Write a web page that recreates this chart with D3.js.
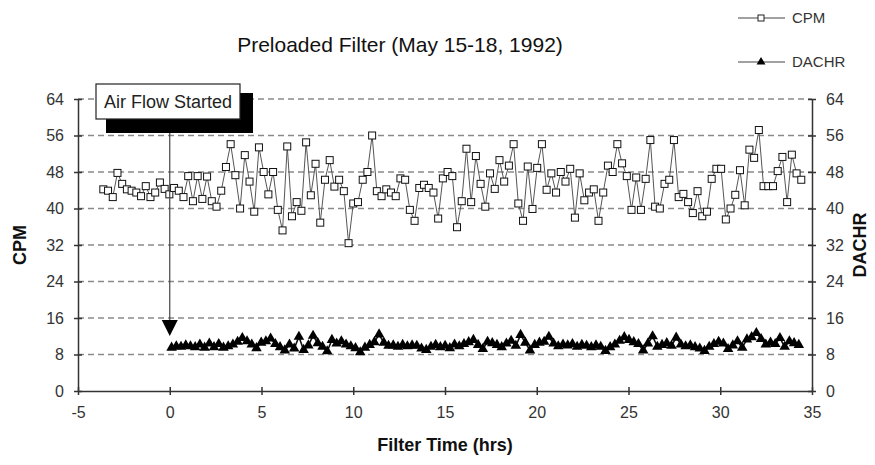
<!DOCTYPE html>
<html>
<head>
<meta charset="utf-8">
<script src="https://cdn.jsdelivr.net/npm/d3@7"></script>
<style>
  body { margin: 0; background: #fff; }
  text { font-family: "Liberation Sans", Arial, sans-serif; }
</style>
</head>
<body>
<div id="chart"></div>
<script>
// readings were logged at a fixed interval, so x comes from the sample index
const cpmStart = -3.62;
const dachrStart = 0.1;
const sampleInterval = 0.257; // hrs between readings

const cpmValues = [
  44.2, 43.9, 42.5, 47.8, 45.4, 44.2, 43.9, 43.5, 42.7, 44.9, 42.5, 43.5, 45.7, 44.3, 43.1, 44.5, 43.9, 42.5,
  47.1, 41.6, 47.1, 42.1, 47.0, 41.6, 40.4, 43.9, 49.1, 54.1, 47.3, 40.0, 51.7, 45.9, 39.3, 53.4, 48.0, 43.1,
  48.0, 39.7, 35.2, 53.6, 38.3, 41.4, 39.5, 54.5, 42.9, 49.8, 36.9, 46.3, 50.6, 44.8, 46.3, 43.8, 32.4, 41.1,
  41.4, 46.3, 48.0, 56.0, 43.8, 42.7, 44.2, 43.5, 42.7, 46.6, 46.3, 39.7, 37.3, 44.5, 45.2, 44.5, 43.5, 37.8,
  46.6, 48.0,
  47.1, 35.9, 41.6, 53.1, 41.4, 51.5, 45.4, 40.4, 47.7, 44.3, 50.6, 45.9, 49.4, 54.1, 41.1, 37.3, 49.2, 39.9,
  48.9, 54.1, 44.1, 47.7, 43.5, 48.0, 45.9, 48.7, 38.0, 47.7, 41.8, 43.5, 44.2, 37.3, 43.5, 49.4, 48.0, 54.1,
  49.9, 47.1, 39.7,
  46.8, 39.7, 46.5, 55.0, 40.4, 40.0, 45.4, 46.3, 55.0, 42.5, 43.2, 41.4, 39.0, 43.8, 38.3, 39.3, 46.5, 48.7,
  48.7, 37.6, 40.0, 43.0, 48.4, 40.7, 52.9, 51.1, 57.2, 44.9, 44.9, 44.9, 48.2, 51.3, 41.4, 51.8, 47.7, 46.3
];

const dachrValues = [
  9.5, 9.8, 9.7, 10.0, 9.8, 9.6, 10.2, 9.5, 10.4, 9.6,
  10.3, 9.5, 9.8, 10.2, 10.8, 11.6, 10.9, 10.2, 9.4, 10.6,
  10.9, 11.5, 10.3, 9.6, 8.9, 10.2, 9.3, 11.9, 9.0, 10.0,
  12.1, 10.5, 9.7, 8.7, 11.2, 10.4, 10.9, 10.2, 9.8, 9.4,
  8.5, 9.5, 10.1, 10.7, 12.4, 10.6, 9.9, 10.0, 9.7, 10.1,
  9.8, 10.0, 9.9, 9.3, 9.0, 9.7, 10.1, 9.6, 9.9, 9.4,
  10.2, 9.8, 10.3, 10.7, 11.2, 10.1, 9.2, 10.8, 10.5, 10.1,
  9.6, 10.4, 11.0, 9.9, 12.3, 10.6, 8.9, 10.1, 10.6, 10.8,
  11.9, 10.4, 9.8, 10.2, 10.0, 10.3, 9.7, 10.1, 9.9, 9.6,
  10.0, 9.7, 8.8, 9.6, 10.2, 11.0, 11.8, 11.2, 10.7, 10.3,
  8.9, 10.4, 12.0, 9.7, 10.1, 10.5, 9.9, 11.7, 10.2, 9.8,
  10.0, 9.6, 9.3, 8.8, 9.7, 10.3, 10.8, 10.4, 9.2, 10.0,
  10.9, 9.5, 11.3, 11.8, 12.7, 11.4, 10.2, 10.6, 10.3, 11.6,
  9.7, 10.9, 10.5, 10.1
];

const xTicks = [-5, 0, 5, 10, 15, 20, 25, 30, 35];
const yTicks = [0, 8, 16, 24, 32, 40, 48, 56, 64];
const airFlowStart = 0; // hrs

const width = 875, height = 465;

const svg = d3.select("#chart")
    .append("svg")
    .attr("width", width)
    .attr("height", height);

const x = d3.scaleLinear().domain([-5, 35]).range([78, 812]);
const y = d3.scaleLinear().domain([0, 64]).range([391, 99]);

// dashed gridlines
svg.append("g")
    .selectAll("line")
    .data(yTicks.filter(d => d > 0))
    .join("line")
    .attr("x1", x(-5))
    .attr("x2", x(35))
    .attr("y1", d => y(d))
    .attr("y2", d => y(d))
    .attr("stroke", "#8a8a8a")
    .attr("stroke-width", 1.6)
    .attr("stroke-dasharray", "6,4");

function styleAxis(g) {
    g.select(".domain").attr("stroke", "#333").attr("stroke-width", 1.5);
    g.selectAll(".tick line").attr("stroke", "#333").attr("stroke-width", 1.5);
    g.selectAll(".tick text").attr("fill", "#333").style("font-size", "16px");
}

svg.append("g")
    .attr("transform", `translate(${x(-5)},0)`)
    .call(d3.axisLeft(y).tickValues(yTicks).tickSize(4).tickPadding(10).tickSizeOuter(0))
    .call(styleAxis)
    .call(g => g.selectAll(".tick line").attr("x2", 4).attr("x1", -4));

svg.append("g")
    .attr("transform", `translate(${x(35)},0)`)
    .call(d3.axisRight(y).tickValues(yTicks).tickSize(4).tickPadding(10).tickSizeOuter(0))
    .call(styleAxis)
    .call(g => g.selectAll(".tick line").attr("x2", 4).attr("x1", -4));

svg.append("g")
    .attr("transform", `translate(0,${y(0)})`)
    .call(d3.axisBottom(x).tickValues(xTicks).tickFormat(d => String(d)).tickSize(4).tickPadding(12).tickSizeOuter(0))
    .call(styleAxis)
    .call(g => g.selectAll(".tick line").attr("y2", 4).attr("y1", -4));

// series
const cpmData = cpmValues.map((v, i) => ({ t: cpmStart + i * sampleInterval, v: v }));
const dachrData = dachrValues.map((v, i) => ({ t: dachrStart + i * sampleInterval, v: v }));

const line = d3.line().x(d => x(d.t)).y(d => y(d.v));

svg.append("path")
    .datum(cpmData)
    .attr("d", line)
    .attr("fill", "none")
    .attr("stroke", "#555")
    .attr("stroke-width", 1);

svg.append("g")
    .selectAll("rect")
    .data(cpmData)
    .join("rect")
    .attr("x", d => x(d.t) - 3.5)
    .attr("y", d => y(d.v) - 3.5)
    .attr("width", 7)
    .attr("height", 7)
    .attr("fill", "#fff")
    .attr("stroke", "#111")
    .attr("stroke-width", 1);

svg.append("path")
    .datum(dachrData)
    .attr("d", line)
    .attr("fill", "none")
    .attr("stroke", "#111")
    .attr("stroke-width", 1.6);

const tri = d3.symbol().type(d3.symbolTriangle).size(48);

svg.append("g")
    .selectAll("path")
    .data(dachrData)
    .join("path")
    .attr("d", tri)
    .attr("transform", d => `translate(${x(d.t)},${y(d.v)})`)
    .attr("fill", "#000");

// annotation box + arrow
svg.append("line")
    .attr("x1", x(airFlowStart))
    .attr("x2", x(airFlowStart))
    .attr("y1", 119)
    .attr("y2", 326)
    .attr("stroke", "#444")
    .attr("stroke-width", 1.2);

svg.append("path")
    .attr("d", `M${x(airFlowStart) - 8},320 L${x(airFlowStart) + 8},320 L${x(airFlowStart)},336 Z`)
    .attr("fill", "#000");

svg.append("rect")
    .attr("x", 106).attr("y", 93)
    .attr("width", 147).attr("height", 40)
    .attr("fill", "#000");

svg.append("rect")
    .attr("x", 96).attr("y", 84)
    .attr("width", 144).attr("height", 35)
    .attr("fill", "#fff")
    .attr("stroke", "#222")
    .attr("stroke-width", 1.2);

svg.append("text")
    .attr("x", 168).attr("y", 108)
    .attr("text-anchor", "middle")
    .style("font-size", "18px")
    .attr("fill", "#222")
    .text("Air Flow Started");

// titles
svg.append("text")
    .attr("x", 400).attr("y", 52)
    .attr("text-anchor", "middle")
    .style("font-size", "21px")
    .attr("fill", "#111")
    .text("Preloaded Filter (May 15-18, 1992)");

svg.append("text")
    .attr("x", 445).attr("y", 451)
    .attr("text-anchor", "middle")
    .style("font-size", "18px")
    .style("font-weight", "bold")
    .attr("fill", "#111")
    .text("Filter Time (hrs)");

svg.append("text")
    .attr("transform", `translate(26,${y(32)}) rotate(-90)`)
    .attr("text-anchor", "middle")
    .style("font-size", "18px")
    .style("font-weight", "bold")
    .attr("fill", "#111")
    .text("CPM");

svg.append("text")
    .attr("transform", `translate(866,${y(32)}) rotate(-90)`)
    .attr("text-anchor", "middle")
    .style("font-size", "18px")
    .style("font-weight", "bold")
    .attr("fill", "#111")
    .text("DACHR");

// legend
const legend = svg.append("g");
const legendItems = [
    { name: "CPM", yPos: 18, marker: "square" },
    { name: "DACHR", yPos: 62, marker: "triangle" }
];
legendItems.forEach(item => {
    legend.append("line")
        .attr("x1", 738).attr("x2", 785)
        .attr("y1", item.yPos).attr("y2", item.yPos)
        .attr("stroke", "#444").attr("stroke-width", 1.2);
    if (item.marker === "square") {
        legend.append("rect")
            .attr("x", 758).attr("y", item.yPos - 3)
            .attr("width", 6).attr("height", 6)
            .attr("fill", "#fff").attr("stroke", "#222");
    } else {
        legend.append("path")
            .attr("d", d3.symbol().type(d3.symbolTriangle).size(34))
            .attr("transform", `translate(761,${item.yPos})`)
            .attr("fill", "#000");
    }
    legend.append("text")
        .attr("x", 792).attr("y", item.yPos + 5)
        .style("font-size", "15px")
        .attr("fill", "#333")
        .text(item.name);
});
</script>
</body>
</html>
